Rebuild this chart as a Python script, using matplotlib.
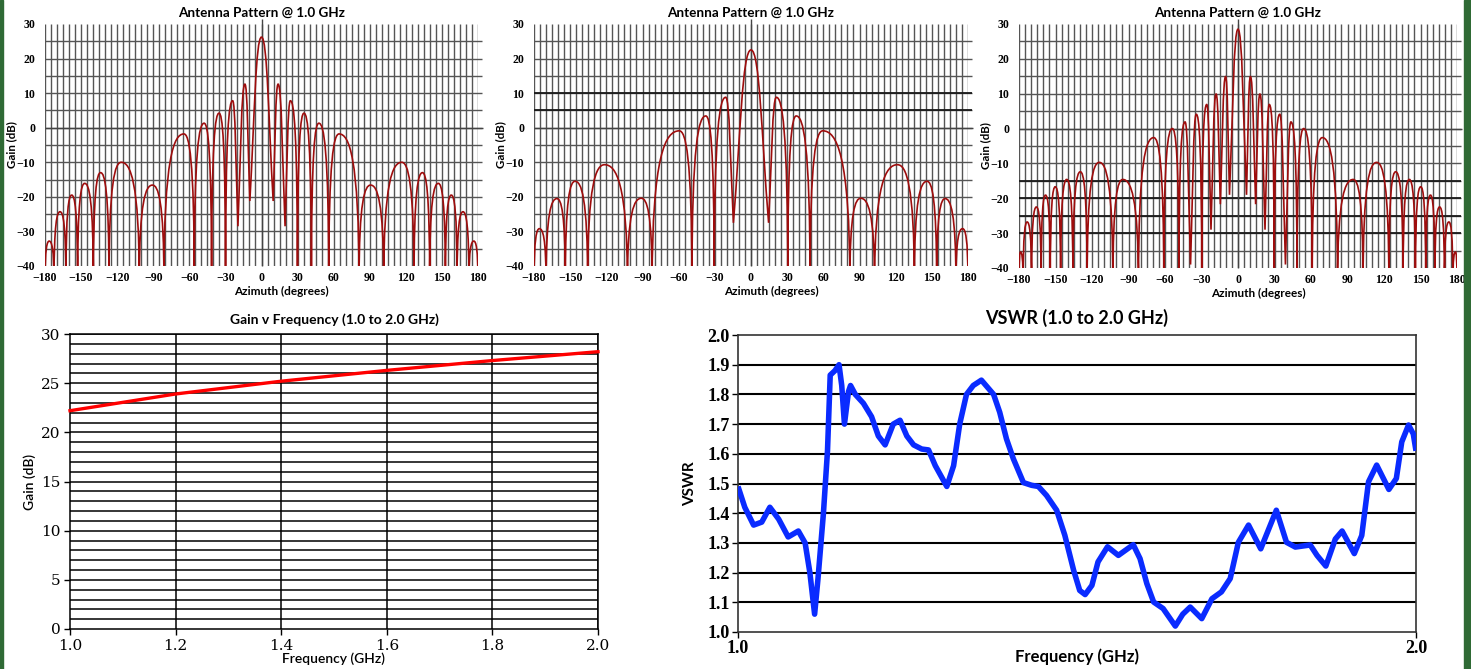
import numpy as np
import matplotlib.pyplot as plt
from matplotlib.path import Path
from matplotlib.patches import PathPatch, Rectangle

# ---- antenna patterns, right half only (patterns are mirror symmetric about 0 deg)
# peak i sits between null i-1 and null i ; last null is the 180 deg end
p1_peak_az = [0, 13.8, 24.0, 35.3, 47.7, 64.5, 90.7, 116.6, 133.8, 147.0, 157.8, 167.5, 176.5]
p1_peak_db = [26.2, 12.6, 7.8, 4.2, 1.3, -1.8, -16.6, -10.0, -13.0, -16.1, -19.5, -24.3, -32.8]
p1_null_az = [9.7, 19.6, 29.9, 41.5, 55.9, 81.1, 101.6, 126.8, 139.8, 152.9, 162.6, 172.5, 180]
p1_null_db = [-21.2, -28.5, -45, -45, -45, -45, -45, -45, -45, -45, -45, -45, -45]

p2_peak_az = [0, 21.0, 37.5, 59.5, 91.0, 121.5, 146.0, 161.0, 175.5]
p2_peak_db = [22.5, 8.8, 3.4, -0.9, -20.4, -10.7, -15.5, -20.5, -29.2]
p2_null_az = [14.6, 30.5, 49.0, 82.0, 102.5, 135.5, 154.0, 170.0, 180]
p2_null_db = [-27.5, -45, -45, -45, -45, -45, -45, -45, -45]

p3_peak_az = [0, 10.2, 18.0, 25.7, 34.3, 43.5, 54.0, 69.3, 94.7, 114.0, 129.6, 140.8,
              150.2, 158.2, 165.7, 173.3, 178.8]
p3_peak_db = [28.5, 14.9, 9.9, 6.9, 4.1, 1.9, 0.0, -2.6, -14.6, -9.7, -12.4, -14.6,
              -16.7, -19.1, -22.5, -26.8, -35.4]
p3_null_az = [7.0, 14.5, 22.2, 29.8, 39.0, 48.5, 61.0, 81.8, 102.8, 124.0, 135.7, 145.8,
              154.3, 161.8, 169.7, 176.6, 180]
p3_null_db = [-19.0, -21.7, -29.0, -45, -39.0, -45, -45, -45, -45, -45, -45, -45,
              -45, -45, -45, -45, -45]

# ---- gain vs frequency
gain_freq = [1.0, 1.2, 1.4, 1.6, 1.8, 2.0]
gain_db = [22.2, 23.9, 25.2, 26.3, 27.3, 28.2]

# ---- VSWR
vswr_freq = [1.000, 1.010, 1.023, 1.035, 1.047, 1.060, 1.074, 1.089, 1.099, 1.106, 1.113,
             1.118, 1.126, 1.132, 1.136, 1.143, 1.149, 1.153, 1.157, 1.163, 1.166, 1.173,
             1.185, 1.197, 1.207, 1.217, 1.229, 1.239, 1.249, 1.259, 1.271, 1.281, 1.291,
             1.308, 1.318, 1.327, 1.337, 1.347, 1.359, 1.377, 1.386, 1.396, 1.406, 1.421,
             1.433, 1.443, 1.455, 1.470, 1.482, 1.495, 1.504, 1.512, 1.522, 1.531, 1.545,
             1.561, 1.583, 1.593, 1.603, 1.613, 1.627, 1.645, 1.656, 1.667, 1.684, 1.699,
             1.713, 1.726, 1.738, 1.753, 1.771, 1.794, 1.809, 1.822, 1.844, 1.854, 1.867,
             1.881, 1.891, 1.909, 1.920, 1.930, 1.942, 1.960, 1.971, 1.979, 1.989, 1.996, 2.000]
vswr_val = [1.49, 1.42, 1.36, 1.37, 1.42, 1.38, 1.32, 1.34, 1.30, 1.20, 1.06,
            1.18, 1.40, 1.61, 1.865, 1.88, 1.90, 1.83, 1.70, 1.81, 1.83, 1.80,
            1.77, 1.725, 1.66, 1.63, 1.70, 1.713, 1.66, 1.63, 1.616, 1.613, 1.56,
            1.49, 1.56, 1.70, 1.80, 1.83, 1.848, 1.80, 1.74, 1.65, 1.584, 1.503,
            1.494, 1.49, 1.46, 1.41, 1.326, 1.208, 1.14, 1.126, 1.157, 1.236, 1.287,
            1.258, 1.294, 1.247, 1.163, 1.101, 1.079, 1.02, 1.06, 1.084, 1.045, 1.112,
            1.135, 1.18, 1.302, 1.36, 1.28, 1.41, 1.302, 1.286, 1.293, 1.258, 1.222,
            1.313, 1.34, 1.264, 1.325, 1.506, 1.562, 1.48, 1.517, 1.64, 1.697, 1.667, 1.61]

W, H = 1471, 669
fig = plt.figure(figsize=(W / 100, H / 100), dpi=100)
fig.patch.set_facecolor('white')


def px_axes(left, top, right, bottom):
    return fig.add_axes([left / W, 1 - bottom / H, (right - left) / W, (bottom - top) / H])


def pattern_path(peak_az, peak_db, null_az, null_db):
    n = len(peak_az)
    nodes = []
    for i in range(n - 1, -1, -1):
        nodes.append((-null_az[i], null_db[i], 'n'))
        if i > 0:
            nodes.append((-peak_az[i], peak_db[i], 'p'))
    nodes.append((peak_az[0], peak_db[0], 'p'))
    for i in range(n):
        nodes.append((null_az[i], null_db[i], 'n'))
        if i + 1 < n:
            nodes.append((peak_az[i + 1], peak_db[i + 1], 'p'))

    def ctrls(nd, pk):
        xn, yn, _ = nd
        xp, yp, _ = pk
        if yn <= -40:
            a, c = 0.85, 0.0
        else:
            a, c = 0.5, 0.4
        b = 0.5
        return (xn + c * (xp - xn), yn + a * (yp - yn)), (xp + b * (xn - xp), yp)

    verts = [nodes[0][:2]]
    codes = [Path.MOVETO]
    for k in range(1, len(nodes)):
        prev, cur = nodes[k - 1], nodes[k]
        if prev[2] == 'n':
            cn, cp = ctrls(prev, cur)
            verts += [cn, cp, cur[:2]]
        else:
            cn, cp = ctrls(cur, prev)
            verts += [cp, cn, cur[:2]]
        codes += [Path.CURVE4] * 3
    return Path(verts, codes)


def antenna_chart(box, peak_az, peak_db, null_az, null_db, dark_rows):
    ax = px_axes(*box)
    left, top, right, bottom = box
    ax.set_xlim(-180, 180)
    ax.set_ylim(-40, 30)
    for s in ax.spines.values():
        s.set_visible(False)
    ax.vlines(np.arange(-180, 181, 5), -40, 30, colors='#555555', lw=1.0, zorder=1)
    ax.hlines(np.arange(-35, 26, 5), -180, 183, colors='#555555', lw=1.0, zorder=1,
              clip_on=False)
    ax.hlines(dark_rows, -180, 183, colors='#1a1a1a', lw=1.3, zorder=1, clip_on=False)
    ax.vlines(0, -40, 31.5, colors='#444444', lw=1.0, zorder=1, clip_on=False)
    ax.hlines(0, -180, 184, colors='#444444', lw=1.0, zorder=1, clip_on=False)
    patch = PathPatch(pattern_path(peak_az, peak_db, null_az, null_db), fill=False,
                      edgecolor='#9e0d0d', lw=1.2, zorder=3, clip_on=True)
    ax.add_patch(patch)
    ax.set_xticks(range(-180, 181, 30))
    ax.set_yticks(range(-40, 31, 10))
    ax.tick_params(length=0, pad=4)
    ax.tick_params(axis='y', pad=7)
    for lab in ax.get_xticklabels() + ax.get_yticklabels():
        lab.set_fontfamily('Liberation Serif')
        lab.set_fontweight('bold')
        lab.set_fontsize(8.5)
    ax.set_title('Antenna Pattern @ 1.0 GHz', family='Lato', weight='bold', fontsize=9.7,
                 pad=5)
    ax.set_xlabel('Azimuth (degrees)', family='Lato', weight='bold', fontsize=8.5,
                  va='center')
    ax.xaxis.set_label_coords(0.547, -25 / (bottom - top))
    ax.set_ylabel('Gain (dB)', family='Lato', weight='bold', fontsize=8.3, va='center')
    ax.yaxis.set_label_coords(-33 / (right - left), 0.5)
    return ax


antenna_chart((45, 24, 478, 266), p1_peak_az, p1_peak_db, p1_null_az, p1_null_db, [])
antenna_chart((534, 24, 968, 266), p2_peak_az, p2_peak_db, p2_null_az, p2_null_db, [10, 5])
antenna_chart((1019, 24, 1457, 268), p3_peak_az, p3_peak_db, p3_null_az, p3_null_db,
              [-15, -20, -25, -30])

# ---- gain v frequency
ax = px_axes(70, 334, 598, 629)
ax.set_xlim(1.0, 2.0)
ax.set_ylim(0, 30)
ax.hlines(np.arange(1, 31, 1), 1.0, 2.0, colors='black', lw=1.1, zorder=1)
ax.vlines(np.arange(1.2, 2.01, 0.2), 0, 30, colors='black', lw=1.1, zorder=1)
ax.plot(gain_freq, gain_db, color='#ff0000', lw=2.4, zorder=3, clip_on=False)
for s in ax.spines.values():
    s.set_color('black')
    s.set_linewidth(1.1)
ax.set_xticks(gain_freq)
ax.set_xticklabels(['1.0', '1.2', '1.4', '1.6', '1.8', '2.0'])
ax.set_yticks(range(0, 31, 5))
ax.tick_params(length=4, width=1, direction='out', pad=3)
for lab in ax.get_xticklabels() + ax.get_yticklabels():
    lab.set_fontfamily('DejaVu Serif')
    lab.set_fontsize(11)
ax.set_title('Gain v Frequency (1.0 to 2.0 GHz)', family='Lato', weight='bold',
             fontsize=10, pad=7)
ax.set_xlabel('Frequency (GHz)', family='Lato', weight='semibold', fontsize=10, va='center')
ax.xaxis.set_label_coords(0.5, -30 / 295)
ax.set_ylabel('Gain (dB)', family='Lato', weight='semibold', fontsize=10, va='center')
ax.yaxis.set_label_coords(-40 / 528, 0.5)

# ---- VSWR
ax = px_axes(738, 335, 1416, 632)
ax.set_xlim(1.0, 2.0)
ax.set_ylim(1.0, 2.0)
ax.hlines(np.arange(1.1, 1.95, 0.1), 1.0, 2.0, colors='black', lw=1.5, zorder=1)
ax.plot(vswr_freq, vswr_val, color='#0a2bff', lw=4.0, zorder=3, solid_joinstyle='round',
        solid_capstyle='butt')
for s in ax.spines.values():
    s.set_color('#333333')
    s.set_linewidth(1.2)
ax.set_xticks([1.0, 2.0])
ax.set_xticklabels(['1.0', '2.0'])
ax.set_yticks(np.arange(1.0, 2.01, 0.1))
ax.set_yticklabels(['%.1f' % v for v in np.arange(1.0, 2.01, 0.1)])
ax.tick_params(length=4, width=1, direction='out', pad=2)
for lab in ax.get_xticklabels() + ax.get_yticklabels():
    lab.set_fontfamily('Liberation Serif')
    lab.set_fontweight('bold')
    lab.set_fontsize(13)
ax.set_title('VSWR (1.0 to 2.0 GHz)', family='Lato', weight='bold', fontsize=13, pad=8)
ax.set_xlabel('Frequency (GHz)', family='Lato', weight='bold', fontsize=12, va='center')
ax.xaxis.set_label_coords(0.5, -25 / 297)
ax.set_ylabel('VSWR', family='Lato', weight='bold', fontsize=11, va='center')
ax.yaxis.set_label_coords(-48 / 678, 0.5)

# green frame edges
fig.patches.append(Rectangle((0, 0), 3 / W, 1, transform=fig.transFigure,
                             color='#2f6a35', zorder=10))
fig.patches.append(Rectangle((1 - 7 / W, 0), 7 / W, 1, transform=fig.transFigure,
                             color='#2f6a35', zorder=10))

fig.savefig('out.png', dpi=100)
